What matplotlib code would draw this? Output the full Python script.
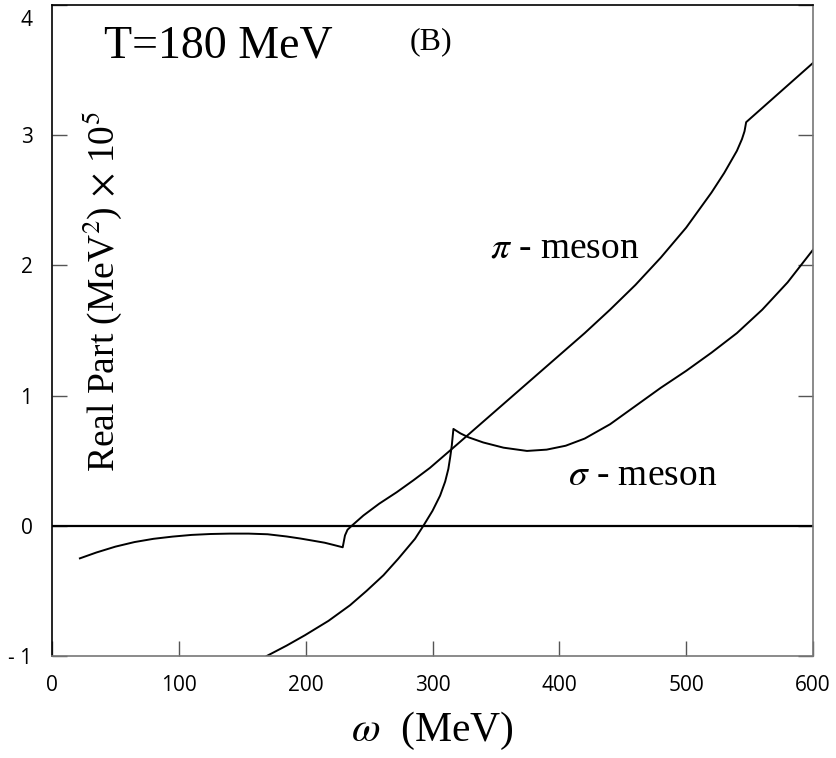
import matplotlib
matplotlib.use("Agg")
import matplotlib.pyplot as plt
from matplotlib.transforms import ScaledTranslation

plt.rcParams["mathtext.fontset"] = "stix"

# pi-meson curve (omega in MeV, real part in 1e5 MeV^2)
pi_omega = [22, 35, 50, 65, 80, 95, 110, 125, 140, 155, 170, 185, 196, 205, 215, 222,
            229.2, 231, 233, 236.3, 245.5, 258, 271.8, 285, 298, 320, 340, 360, 380,
            400, 420, 440, 460, 480, 500, 520, 530, 540, 544, 546, 547.3, 600]
pi_real = [-0.25, -0.205, -0.16, -0.125, -0.10, -0.083, -0.07, -0.063, -0.06, -0.06,
           -0.065, -0.082, -0.098, -0.113, -0.13, -0.147, -0.165, -0.074, -0.03, 0.0,
           0.079, 0.17, 0.258, 0.35, 0.445, 0.63, 0.80, 0.97, 1.14, 1.31, 1.48, 1.66,
           1.85, 2.06, 2.29, 2.56, 2.71, 2.88, 2.97, 3.03, 3.10, 3.555]

# sigma-meson curve
sigma_omega = [169.3, 185, 199.5, 218, 235, 248, 261.3, 273, 286.2, 292.8, 300, 306,
               310, 312.5, 314, 315.2, 316.5, 322, 328.3, 340, 356, 374.5, 390, 405,
               420, 440, 460, 480, 500, 520, 540, 560, 580, 600]
sigma_real = [-1.0, -0.92, -0.84, -0.73, -0.61, -0.50, -0.38, -0.253, -0.10, 0.0,
              0.115, 0.232, 0.34, 0.437, 0.53, 0.616, 0.744, 0.71, 0.68, 0.64, 0.60,
              0.575, 0.585, 0.615, 0.67, 0.78, 0.92, 1.06, 1.19, 1.33, 1.48, 1.66,
              1.87, 2.12]

x_ticks = [0, 100, 200, 300, 400, 500, 600]
y_ticks = [-1, 0, 1, 2, 3, 4]
y_tick_labels = ["- 1", "0", "1", "2", "3", "4"]

serif = ["Liberation Serif", "DejaVu Serif"]
sans = ["Open Sans", "DejaVu Sans"]

fig = plt.figure(figsize=(8.37, 7.58), dpi=100)
ax = fig.add_axes([52 / 837, 1 - 656 / 758, (813 - 52) / 837, (656 - 5) / 758])

ax.axhline(0, color="black", lw=1.6)
ax.plot(pi_omega, pi_real, color="black", lw=1.4)
ax.plot(sigma_omega, sigma_real, color="black", lw=1.4)

ax.set_xlim(0, 600)
ax.set_ylim(-1, 4)
ax.set_xticks(x_ticks)
ax.set_xticklabels([str(v) for v in x_ticks], family=sans, fontsize=15)
ax.set_yticks(y_ticks)
ax.set_yticklabels(y_tick_labels, family=sans, fontsize=15)
ax.tick_params(axis="both", direction="in", length=11, width=1, color="#555555")
ax.tick_params(axis="x", pad=14)
ax.tick_params(axis="y", pad=14, right=True)

# the top label sits a little below its tick in the original
top_label = ax.get_yticklabels()[-1]
top_label.set_transform(top_label.get_transform() + ScaledTranslation(0, -0.13, fig.dpi_scale_trans))

for side in ("top", "left"):
    ax.spines[side].set_color("black")
for side in ("bottom", "right"):
    ax.spines[side].set_color("#777777")
for s in ax.spines.values():
    s.set_linewidth(1.2)

ax.text(41, 3.60, "T=180 MeV", family=serif, fontsize=33, va="baseline")
ax.text(282, 3.66, "(B)", family=serif, fontsize=23, va="baseline")
ax.text(345, 2.06, r"$\pi$ - meson", family=serif, fontsize=27, va="baseline")
ax.text(407, 0.31, r"$\sigma$ - meson", family=serif, fontsize=27, va="baseline")
ax.text(39.4, 1.80, r"Real Part (MeV$^2$)$\,\times\,$10$^5$", family=serif,
        fontsize=27, rotation=90, ha="center", va="center")

ax.set_xlabel(r"$\omega$  (MeV)", family=serif, fontsize=30, labelpad=10)

fig.savefig("out.png", dpi=100)
